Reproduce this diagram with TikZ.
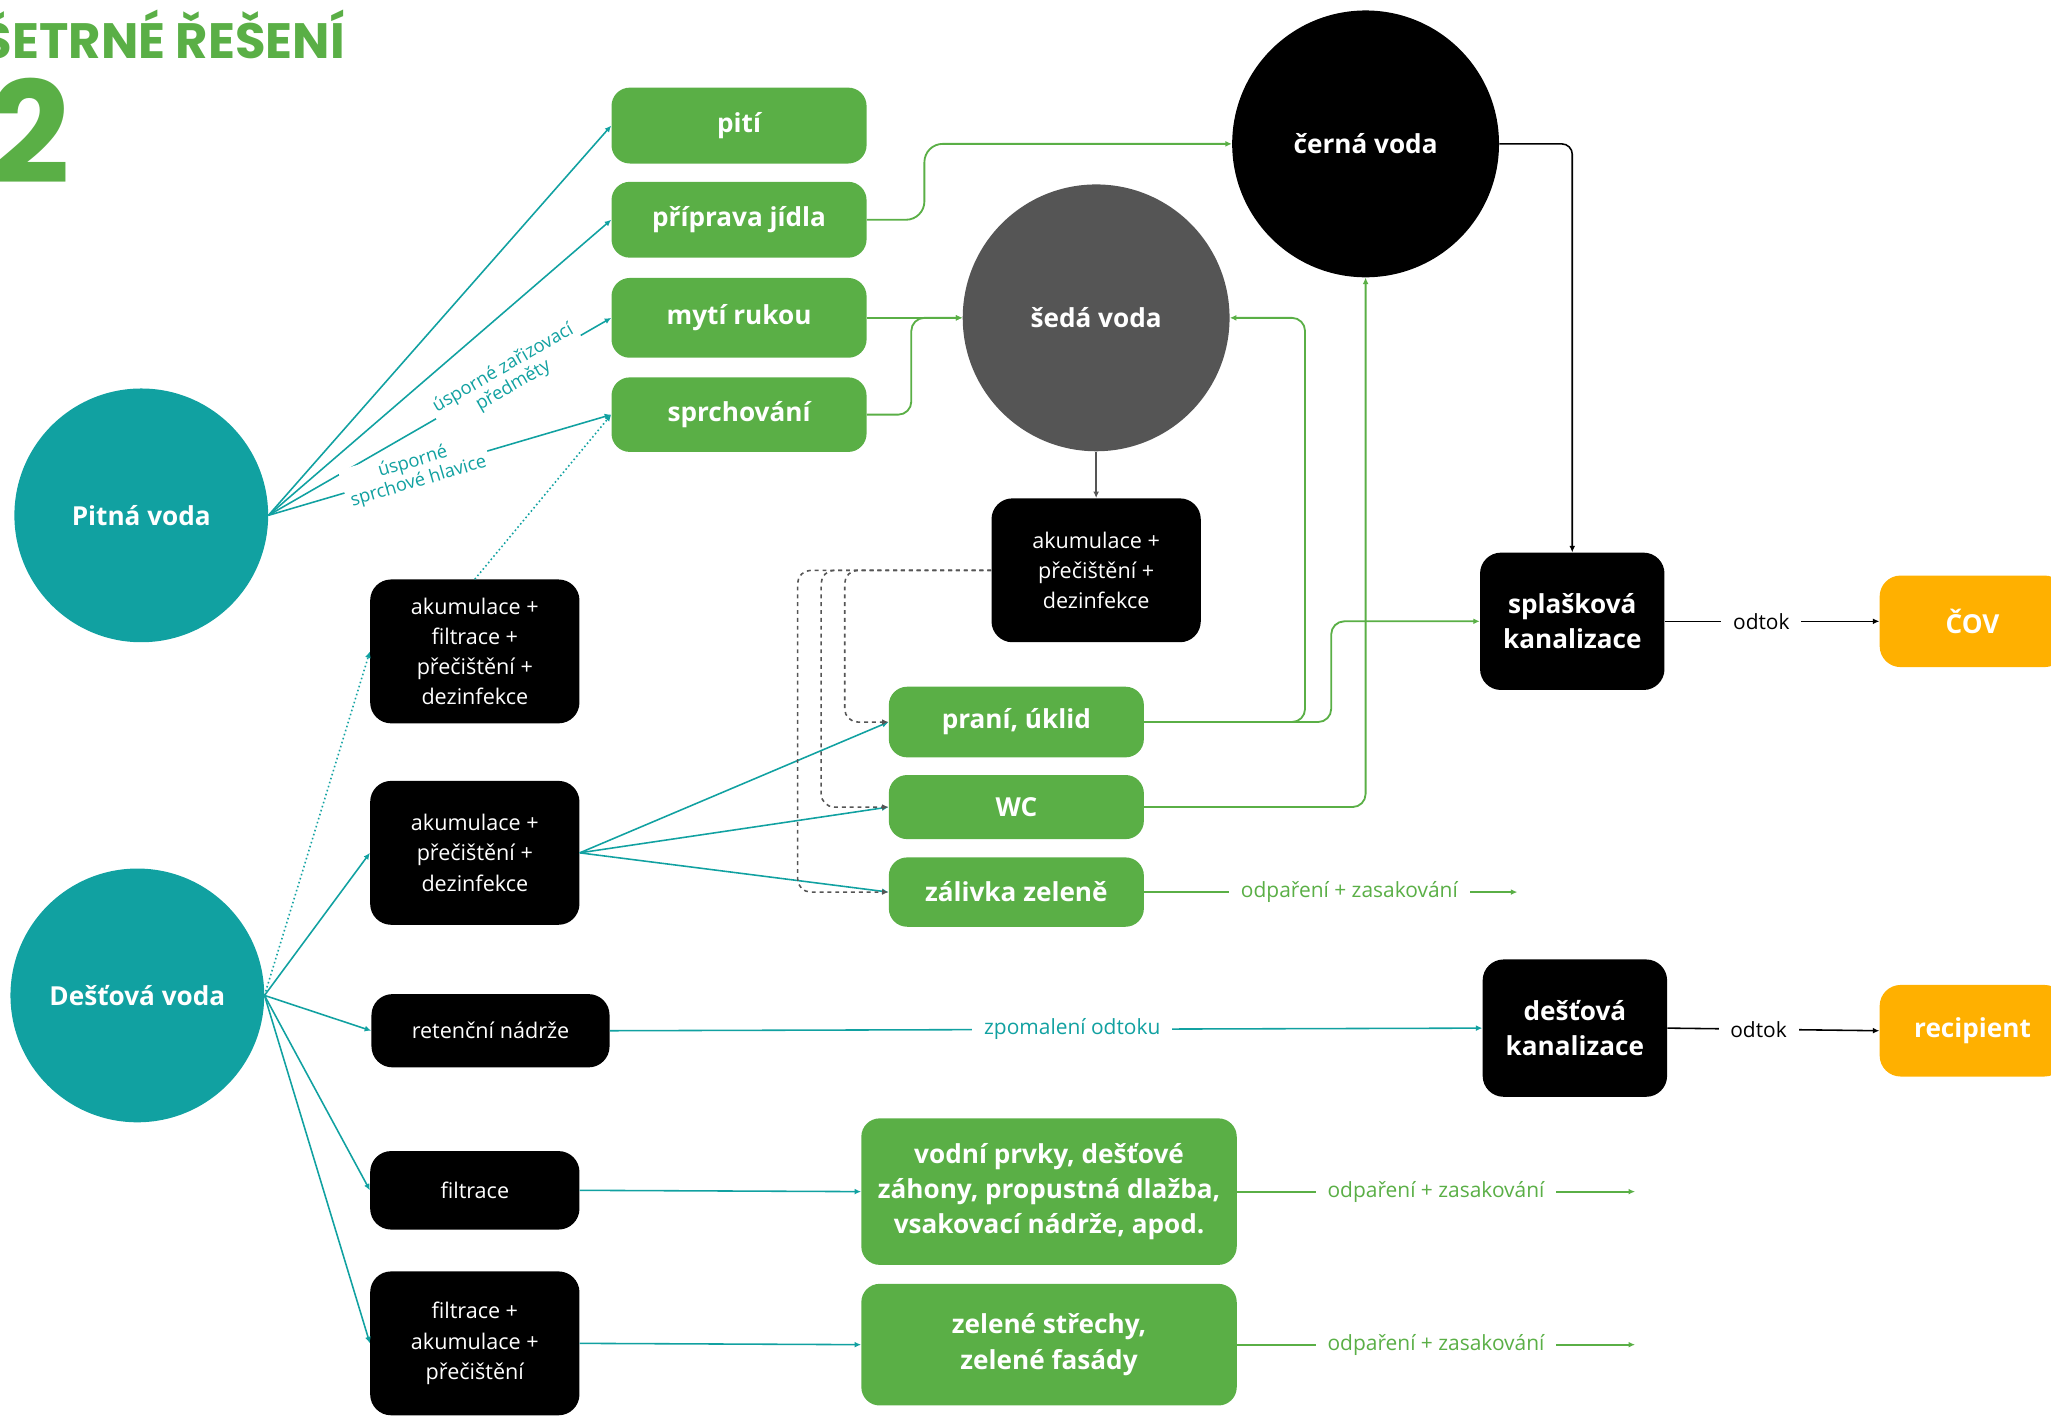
\documentclass[tikz,border=0pt]{standalone}
\usepackage{fontspec}
\setmainfont{Open Sans}
\newfontfamily\headfont{Poppins}
\usetikzlibrary{arrows.meta}
\definecolor{tealc}{RGB}{17,161,161}
\definecolor{greenc}{RGB}{90,175,70}
\definecolor{greyc}{RGB}{85,85,85}
\definecolor{orangec}{RGB}{255,176,0}
\tikzset{
  flowtip/.style={-{Latex[length=5pt,width=4.5pt]}},
  water/.style={circle, fill=tealc, text=white, font=\bfseries\fontsize{20}{27}\selectfont, minimum size=194pt, inner sep=0pt},
  waste/.style={circle, text=white, font=\bfseries\fontsize{20}{27}\selectfont, minimum size=204pt, inner sep=0pt},
  usebox/.style={fill=greenc, rounded corners=14pt, text=white, font=\bfseries\fontsize{20}{27}\selectfont, align=center, inner sep=0pt, minimum width=195pt},
  treatbox/.style={fill=black, rounded corners=16pt, text=white, font=\fontsize{16.5}{23}\selectfont, align=center, inner sep=0pt, minimum width=160pt},
  sewerbox/.style={fill=black, rounded corners=16pt, text=white, font=\bfseries\fontsize{20}{27}\selectfont, align=center, inner sep=0pt, minimum width=141pt, minimum height=105pt},
  endbox/.style={fill=orangec, rounded corners=16pt, text=white, font=\bfseries\fontsize{20}{27}\selectfont, inner sep=0pt, minimum width=142pt, minimum height=70pt},
  tealline/.style={draw=tealc, line width=1.2pt, flowtip},
  greenline/.style={draw=greenc, line width=1.4pt, flowtip},
  greyline/.style={draw=greyc, line width=1.2pt, flowtip},
  blackline/.style={draw=black, line width=1.2pt, flowtip},
  teallabel/.style={text=tealc, font=\fontsize{14}{15.5}\selectfont, align=center, fill=white, inner sep=3pt},
  flowlabel/.style={font=\fontsize{16}{18}\selectfont, fill=white, inner xsep=9pt, inner ysep=1pt},
}
\begin{document}
\begin{tikzpicture}[x=1pt,y=-1pt]
\useasboundingbox (0,0) rectangle (1568,1083);
% title
\node[anchor=base west, text=greenc, font=\headfont\bfseries\fontsize{38}{38}\selectfont, inner sep=0pt] (title) at (-14,45) {ŠETRNÉ ŘEŠENÍ};
\node[anchor=base west, text=greenc, font=\headfont\bfseries\fontsize{108}{108}\selectfont, inner sep=0pt] (number) at (-8,140) {2};
% draw circles
\node[water] (pitna) at (108,394) {Pitná voda};
\node[water] (destova) at (105,761) {Dešťová voda};
\node[waste, fill=greyc] (seda) at (838,243) {šedá voda};
\node[waste, fill=black] (cerna) at (1044,110) {černá voda};
% draw use boxes
\node[usebox, minimum height=58pt] (piti) at (565,96) {pití};
\node[usebox, minimum height=58pt] (priprava) at (565,168) {příprava jídla};
\node[usebox, minimum height=61pt] (myti) at (565,243) {mytí rukou};
\node[usebox, minimum height=57pt] (sprcha) at (565,317) {sprchování};
\node[usebox, minimum height=54pt] (prani) at (777,552) {praní, úklid};
\node[usebox, minimum height=49pt] (wc) at (777,617) {WC};
\node[usebox, minimum height=53pt] (zalivka) at (777,682) {zálivka zeleně};
\node[usebox, minimum width=287pt, minimum height=112pt] (vodni) at (802,911) {vodní prvky, dešťové\\záhony, propustná dlažba,\\vsakovací nádrže, apod.};
\node[usebox, minimum width=287pt, minimum height=93pt] (strechy) at (802,1028) {zelené střechy,\\zelené fasády};
% draw treatment boxes
\node[treatbox, minimum height=110pt] (akumseda) at (838,436) {akumulace +\\přečištění +\\dezinfekce};
\node[treatbox, minimum height=110pt] (akumfiltr) at (363,498) {akumulace +\\filtrace +\\přečištění +\\dezinfekce};
\node[treatbox, minimum height=110pt] (akumprec) at (363,652) {akumulace +\\přečištění +\\dezinfekce};
\node[treatbox, minimum width=182pt, minimum height=56pt] (retence) at (375,788) {retenční nádrže};
\node[treatbox, minimum height=60pt] (filtr) at (363,910) {filtrace};
\node[treatbox, minimum height=110pt] (filtrakum) at (363,1027) {filtrace +\\akumulace +\\přečištění};
% draw sewers and outlets
\node[sewerbox] (splaskova) at (1202,475) {splašková\\kanalizace};
\node[sewerbox] (destkan) at (1204,786) {dešťová\\kanalizace};
\node[endbox] (cov) at (1508,475) {ČOV};
\node[endbox] (recipient) at (1508,788) {recipient};
\coordinate (zalend) at (1160,682);
\coordinate (vodniend) at (1250,911);
\coordinate (strechyend) at (1250,1028);
% drinking water
\foreach \t in {piti,priprava}
\draw[tealline] (pitna.east) -- (\t.west);
\draw[tealline] (pitna.east) -- node[teallabel, sloped, pos=0.7] {úsporné zařizovací\\předměty} (myti.west);
\draw[tealline] (pitna.east) -- node[teallabel, sloped, pos=0.43] {úsporné\\sprchové hlavice} (sprcha.west);
% rain water
\draw[tealline, dotted] (destova.east) -- (akumfiltr.west);
\draw[tealline, dotted] (akumfiltr.north) -- (sprcha.west);
\foreach \t in {akumprec,retence,filtr,filtrakum}
\draw[tealline] (destova.east) -- (\t.west);
\foreach \t in {prani,wc,zalivka}
\draw[tealline] (akumprec.east) -- (\t.west);
\draw[tealline] (retence.east) -- node[flowlabel, text=tealc, pos=0.53] {zpomalení odtoku} (destkan.west);
\draw[tealline] (filtr.east) -- (vodni.west);
\draw[tealline] (filtrakum.east) -- (strechy.west);
% waste water
\draw[greenline, rounded corners=14pt] (priprava.east) -- ++(44,0) |- (cerna.west);
\draw[greenline] (myti.east) -- (seda.west);
\draw[greenline, rounded corners=10pt] (sprcha.east) -- ++(34,0) |- (seda.west);
\draw[greenline, rounded corners=10pt] (prani.east) -- ++(123,0) |- (seda.east);
\draw[greenline, rounded corners=10pt] (prani.east) -- ++(143,0) |- (splaskova.west);
\draw[greenline, rounded corners=10pt] (wc.east) -| (cerna.south);
\draw[blackline, rounded corners=8pt] (cerna.east) -| (splaskova.north);
\draw[greyline] (seda.south) -- (akumseda.north);
% recycled grey water
\draw[greyline, dashed, rounded corners=10pt] (akumseda.west) -- ++(-112,0) |- (prani.west);
\draw[greyline, dashed, rounded corners=10pt] (akumseda.west) -- ++(-130,0) |- (wc.west);
\draw[greyline, dashed, rounded corners=10pt] (akumseda.west) -- ++(-148,0) |- (zalivka.west);
% outflow
\draw[greenline] (zalivka.east) -- node[flowlabel, text=greenc, pos=0.55] {odpaření + zasakování} (zalend);
\draw[greenline] (vodni.east) -- node[flowlabel, text=greenc, pos=0.5] {odpaření + zasakování} (vodniend);
\draw[greenline] (strechy.east) -- node[flowlabel, text=greenc, pos=0.5] {odpaření + zasakování} (strechyend);
\draw[blackline] (splaskova.east) -- node[flowlabel, pos=0.45] {odtok} (cov.west);
\draw[blackline] (destkan.east) -- node[flowlabel, pos=0.43] {odtok} (recipient.west);
\end{tikzpicture}
\end{document}
